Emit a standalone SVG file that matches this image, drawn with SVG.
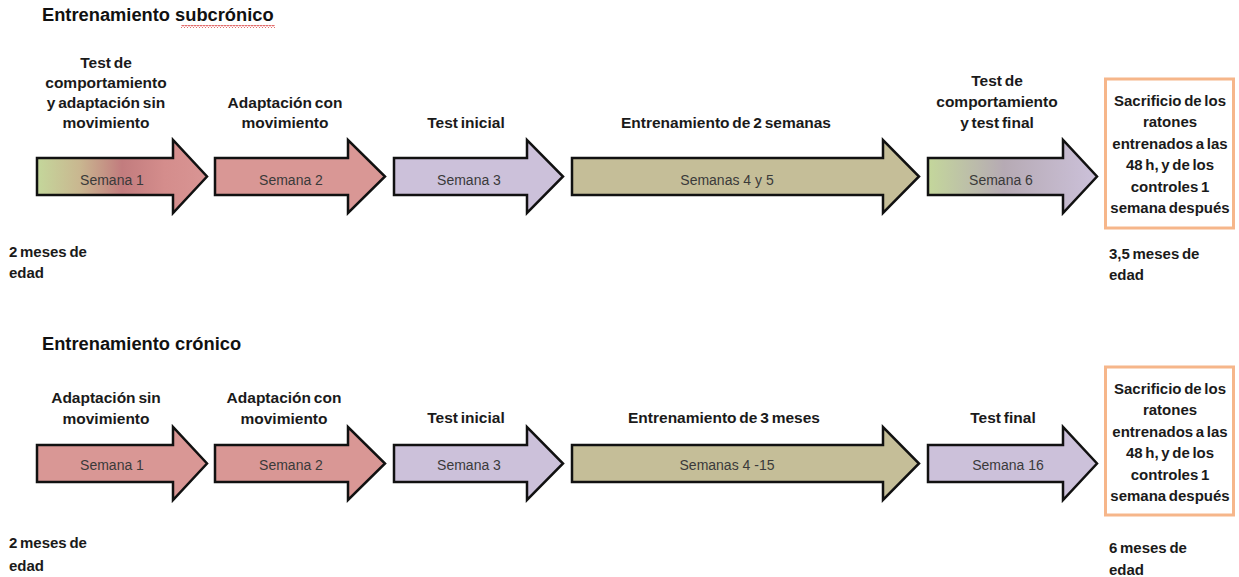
<svg xmlns="http://www.w3.org/2000/svg" width="1239" height="577" viewBox="0 0 1239 577">
<style>
.title{font-family:"Liberation Sans",Arial,sans-serif;font-weight:bold;font-size:18.3px;fill:#111}
.lbl{font-family:"Liberation Sans",Arial,sans-serif;font-weight:bold;font-size:15.5px;fill:#1a1a1a;text-anchor:middle;word-spacing:-1.5px}
.age{font-family:"Liberation Sans",Arial,sans-serif;font-weight:bold;font-size:15px;fill:#1a1a1a;word-spacing:-1.5px}
.box{font-family:"Liberation Sans",Arial,sans-serif;font-weight:bold;font-size:15px;fill:#1a1a1a;text-anchor:middle;word-spacing:-1.5px}
.sem{font-family:"Liberation Sans",Arial,sans-serif;font-size:14px;fill:#3a3a3a;text-anchor:middle}
.arr{stroke:#111;stroke-width:2.5;stroke-linejoin:miter}
.pink{fill:#d99795}
.lav{fill:#ccc1da}
.olive{fill:#c5be98}
.frame{fill:#fff;stroke:#f6b68a;stroke-width:3}
</style>
<defs>
<linearGradient id="gGreenPink" x1="0" y1="0" x2="1" y2="0">
<stop offset="0" stop-color="#c4d79b"/>
<stop offset="0.25" stop-color="#c9b790"/>
<stop offset="0.5" stop-color="#c27c7e"/>
<stop offset="0.75" stop-color="#d48d8c"/>
<stop offset="1" stop-color="#d99594"/>
</linearGradient>
<linearGradient id="gGreenLav" x1="0" y1="0" x2="1" y2="0">
<stop offset="0" stop-color="#c4d79b"/>
<stop offset="0.45" stop-color="#b6aab4"/>
<stop offset="1" stop-color="#ccc1da"/>
</linearGradient>
<pattern id="wave" width="3" height="3" patternUnits="userSpaceOnUse">
<path d="M0,2.5 L1.5,0.5 L3,2.5" stroke="#d83a3a" fill="none" stroke-width="1"/>
</pattern>
</defs>
<rect width="1239" height="577" fill="#fff"/>

<g id="title-subcronico">
<text class="title" x="42" y="21">Entrenamiento subcrónico</text>
<rect x="181" y="25" width="94" height="3" fill="url(#wave)"/>
</g>
<g id="title-cronico">
<text class="title" x="42" y="350">Entrenamiento crónico</text>
</g>

<!-- top row -->
<g id="top-arrow1">
<path class="arr" fill="url(#gGreenPink)" d="M37,158 H173 V140 L207,176.5 L173,213 V195 H37 Z"/>
<text class="sem" x="112" y="184.5">Semana 1</text>
<text class="lbl" x="106" y="67.5">Test de</text>
<text class="lbl" x="106" y="87.5">comportamiento</text>
<text class="lbl" x="106" y="107.5">y adaptación sin</text>
<text class="lbl" x="106" y="127.5">movimiento</text>
</g>
<g id="top-arrow2">
<path class="arr pink" d="M215,158 H348 V140 L385,176.5 L348,213 V195 H215 Z"/>
<text class="sem" x="291" y="184.5">Semana 2</text>
<text class="lbl" x="285" y="108">Adaptación con</text>
<text class="lbl" x="285" y="128">movimiento</text>
</g>
<g id="top-arrow3">
<path class="arr lav" d="M394,158 H527 V140 L563,176.5 L527,213 V195 H394 Z"/>
<text class="sem" x="469" y="184.5">Semana 3</text>
<text class="lbl" x="466" y="128">Test inicial</text>
</g>
<g id="top-arrow4">
<path class="arr olive" d="M572,158 H883 V140 L919,176.5 L883,213 V195 H572 Z"/>
<text class="sem" x="727" y="184.5">Semanas 4 y 5</text>
<text class="lbl" x="726" y="128">Entrenamiento de 2 semanas</text>
</g>
<g id="top-arrow5">
<path class="arr" fill="url(#gGreenLav)" d="M928,158 H1063 V140 L1097,176.5 L1063,213 V195 H928 Z"/>
<text class="sem" x="1001" y="184.5">Semana 6</text>
<text class="lbl" x="997" y="85.5">Test de</text>
<text class="lbl" x="997" y="107">comportamiento</text>
<text class="lbl" x="997" y="127.5">y test final</text>
</g>
<g id="top-box">
<rect class="frame" x="1105.5" y="79" width="128" height="149"/>
<text class="box" x="1170" y="105.5">Sacrificio de los</text>
<text class="box" x="1170" y="127">ratones</text>
<text class="box" x="1170" y="148.5">entrenados a las</text>
<text class="box" x="1170" y="170">48 h, y de los</text>
<text class="box" x="1170" y="191.5">controles 1</text>
<text class="box" x="1170" y="213">semana después</text>
</g>
<g id="top-age-start">
<text class="age" x="9" y="256.5">2 meses de</text>
<text class="age" x="9" y="277.5">edad</text>
</g>
<g id="top-age-end">
<text class="age" x="1109" y="258.5">3,5 meses de</text>
<text class="age" x="1109" y="280">edad</text>
</g>

<!-- bottom row -->
<g id="bot-arrow1">
<path class="arr pink" d="M37,445 H173 V427 L207,463.5 L173,500 V482 H37 Z"/>
<text class="sem" x="112" y="469.5">Semana 1</text>
<text class="lbl" x="106" y="402.5">Adaptación sin</text>
<text class="lbl" x="106" y="423.5">movimiento</text>
</g>
<g id="bot-arrow2">
<path class="arr pink" d="M215,445 H348 V427 L385,463.5 L348,500 V482 H215 Z"/>
<text class="sem" x="291" y="469.5">Semana 2</text>
<text class="lbl" x="284" y="402.5">Adaptación con</text>
<text class="lbl" x="284" y="423.5">movimiento</text>
</g>
<g id="bot-arrow3">
<path class="arr lav" d="M394,445 H527 V427 L563,463.5 L527,500 V482 H394 Z"/>
<text class="sem" x="469" y="469.5">Semana 3</text>
<text class="lbl" x="466" y="422.5">Test inicial</text>
</g>
<g id="bot-arrow4">
<path class="arr olive" d="M572,445 H883 V427 L919,463.5 L883,500 V482 H572 Z"/>
<text class="sem" x="727" y="469.5">Semanas 4 -15</text>
<text class="lbl" x="724" y="422.5">Entrenamiento de 3 meses</text>
</g>
<g id="bot-arrow5">
<path class="arr lav" d="M928,445 H1063 V427 L1097,463.5 L1063,500 V482 H928 Z"/>
<text class="sem" x="1008" y="469.5">Semana 16</text>
<text class="lbl" x="1003" y="422.5">Test final</text>
</g>
<g id="bot-box">
<rect class="frame" x="1105.5" y="367" width="128" height="148"/>
<text class="box" x="1170" y="393.5">Sacrificio de los</text>
<text class="box" x="1170" y="415">ratones</text>
<text class="box" x="1170" y="436.5">entrenados a las</text>
<text class="box" x="1170" y="458">48 h, y de los</text>
<text class="box" x="1170" y="479.5">controles 1</text>
<text class="box" x="1170" y="501">semana después</text>
</g>
<g id="bot-age-start">
<text class="age" x="9" y="547.5">2 meses de</text>
<text class="age" x="9" y="570.5">edad</text>
</g>
<g id="bot-age-end">
<text class="age" x="1109" y="552.5">6 meses de</text>
<text class="age" x="1109" y="575">edad</text>
</g>
<g id="connectors"></g>
</svg>
